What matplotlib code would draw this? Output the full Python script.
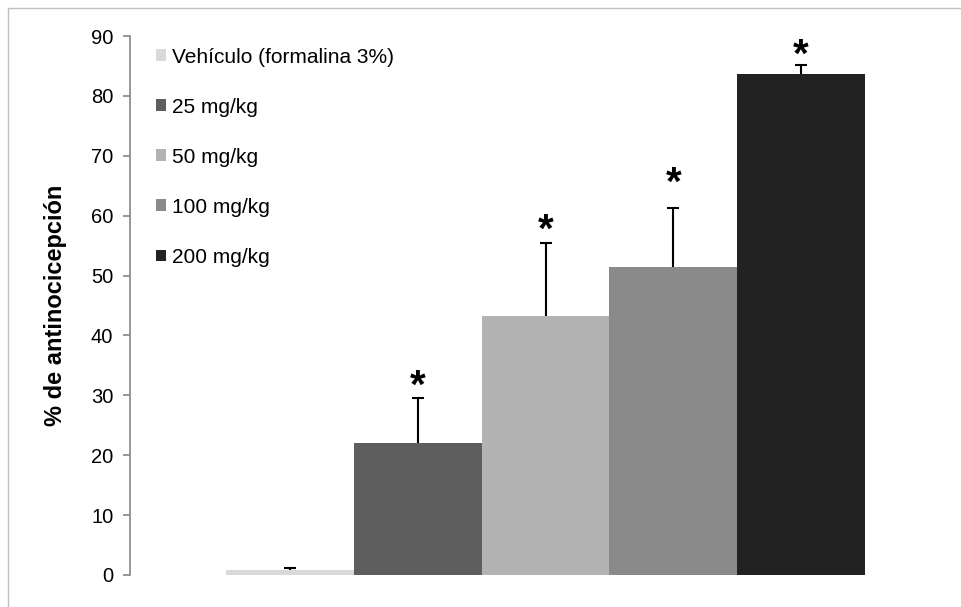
import matplotlib.pyplot as plt
import numpy as np
from matplotlib.patches import Rectangle

plt.rcParams["font.family"] = ["Liberation Sans", "DejaVu Sans"]

groups = ["Vehículo (formalina 3%)", "25 mg/kg", "50 mg/kg", "100 mg/kg", "200 mg/kg"]
means = [0.8, 22.0, 43.2, 51.5, 83.6]
errors = [0.3, 7.5, 12.3, 9.8, 1.6]
# significance markers (None = not significant), placed at these heights
star_y = [None, 32.5, 58.5, 66.5, 87.8]
colors = ["#d9d9d9", "#5e5e5e", "#b3b3b3", "#8a8a8a", "#222222"]

W, H = 962, 607
fig = plt.figure(figsize=(W / 100, H / 100), dpi=100)
ax = fig.add_axes([130 / W, 32 / H, 831 / W, 539 / H])

x = np.arange(len(groups))
ax.bar(x, means, width=1.0, color=colors, label=groups, zorder=2)
# upper error only: hide the lower cap
_, caps, _ = ax.errorbar(x, means, yerr=[np.zeros(len(errors)), errors], fmt="none",
                         ecolor="black", elinewidth=1.5, capsize=4, capthick=1.5, zorder=3)
caps[0].set_visible(False)

for xi, sy in zip(x, star_y):
    if sy is not None:
        # the glyph sits high in its text box, so pull it down to centre it on sy
        ax.annotate("*", (xi, sy), xytext=(0, -18.4), textcoords="offset points",
                    ha="center", va="bottom", fontsize=29, fontweight="bold")

ax.set_xlim(-1.25, 5.25)
ax.set_ylim(0, 90)
ax.set_yticks(np.arange(0, 91, 10))
ax.set_xticks([])
for side in ["top", "right", "bottom"]:
    ax.spines[side].set_visible(False)
ax.spines["left"].set_color("#868686")
ax.spines["left"].set_linewidth(1.2)
ax.tick_params(axis="y", length=5, width=1.2, color="#868686", pad=7, labelsize=14.5)
ax.set_ylabel("% de antinocicepción", fontsize=17, fontweight="bold", labelpad=17)

ax.legend(loc="upper left", bbox_to_anchor=(0.021, 0.994), frameon=False,
          fontsize=15, handlelength=0.48, handleheight=0.48,
          handletextpad=0.3, labelspacing=1.49, borderaxespad=0)

# outer chart frame (top and left edges)
fig.add_artist(Rectangle((8 / W, -0.5), 2.0, 1.5 - 8 / H, transform=fig.transFigure,
                         fill=False, edgecolor="#c0c0c0", linewidth=1.0))

fig.savefig("out.png", dpi=100)
